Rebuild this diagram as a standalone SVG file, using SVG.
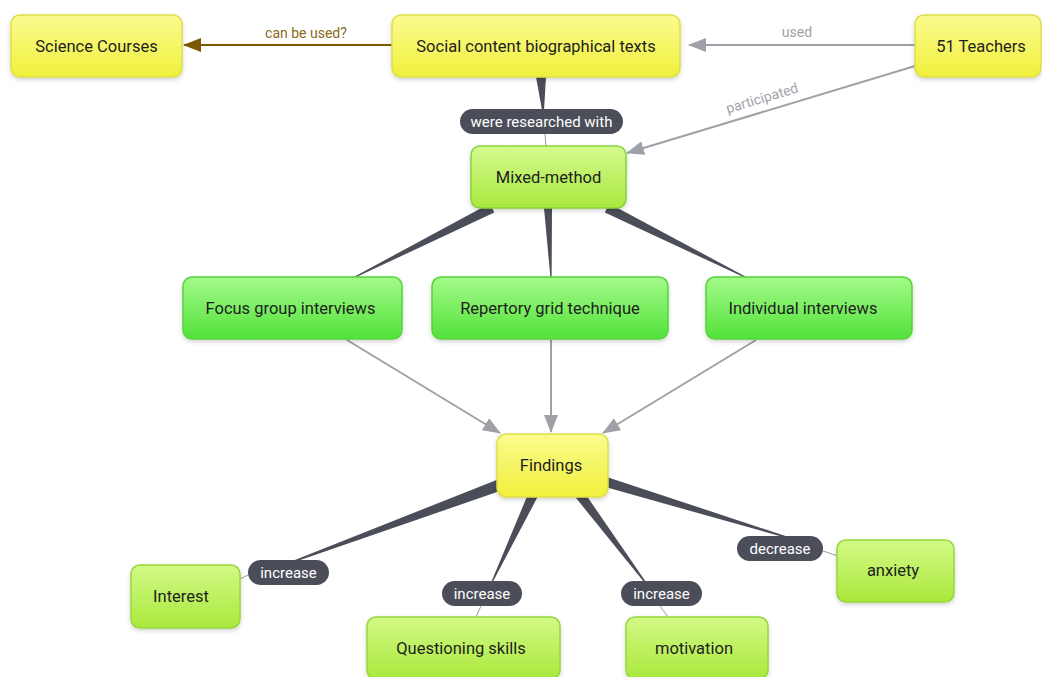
<svg xmlns="http://www.w3.org/2000/svg" width="1042" height="677" viewBox="0 0 1042 677">
<style>
.t{font-family:Roboto,"Liberation Sans",sans-serif;font-size:16.5px;fill:#1e1e1e;text-anchor:middle;dominant-baseline:central}
.lbl{font-family:Roboto,"Liberation Sans",sans-serif;font-size:15px;fill:#fff;text-anchor:middle;dominant-baseline:central}
.pill{fill:#4b4e59}
.glab{font-family:Roboto,"Liberation Sans",sans-serif;font-size:14px;fill:#a3a3aa;text-anchor:middle;dominant-baseline:central}
.wedge{fill:#4b4e59}
.thin{stroke:#9a9aa0;stroke-width:1;fill:none}
.garr{stroke:#a0a0a8;stroke-width:2;fill:none;marker-end:url(#ga)}
.y{fill:url(#gy);stroke:#dede4a;stroke-width:1.5;filter:url(#sh)}
.mg{fill:url(#gm);stroke:#86d43c;stroke-width:1.5;filter:url(#sh)}
.bg{fill:url(#gb);stroke:#55d43a;stroke-width:1.5;filter:url(#sh)}
.lg{fill:url(#gl);stroke:#96d83a;stroke-width:1.5;filter:url(#sh)}
</style>
<defs>
<linearGradient id="gy" x1="0" y1="0" x2="0" y2="1"><stop offset="0" stop-color="#fbfb90"/><stop offset="1" stop-color="#f0f03c"/></linearGradient>
<linearGradient id="gm" x1="0" y1="0" x2="0" y2="1"><stop offset="0" stop-color="#d4fa8e"/><stop offset="1" stop-color="#a8e83e"/></linearGradient>
<linearGradient id="gb" x1="0" y1="0" x2="0" y2="1"><stop offset="0" stop-color="#a4fa8a"/><stop offset="1" stop-color="#52e23a"/></linearGradient>
<linearGradient id="gl" x1="0" y1="0" x2="0" y2="1"><stop offset="0" stop-color="#d2fa86"/><stop offset="1" stop-color="#aae83c"/></linearGradient>
<filter id="sh" x="-10%" y="-10%" width="120%" height="130%"><feDropShadow dx="0" dy="2" stdDeviation="2" flood-color="#000" flood-opacity="0.18"/></filter>
<marker id="ga" markerUnits="userSpaceOnUse" markerWidth="18" markerHeight="14" refX="17" refY="7" orient="auto"><path d="M0,0 L18,7 L0,14 z" fill="#a0a0a8"/></marker>
<marker id="ba" markerUnits="userSpaceOnUse" markerWidth="18" markerHeight="14" refX="17" refY="7" orient="auto"><path d="M0,0 L18,7 L0,14 z" fill="#7a5800"/></marker>
</defs>
<rect width="1042" height="677" fill="#fff"/>
<g id="connectors">
<polygon class="wedge" points="536,77 546,77 544,110 542,110"/>
<polygon class="wedge" points="489.8,203.5 494.3,212.5 355.3,277.6 354.7,276.4"/>
<polygon class="wedge" points="544,208 552,208 551.6,277 550.4,277"/>
<polygon class="wedge" points="604.8,212.5 609.2,203.5 745.3,276.4 744.7,277.6"/>
<polygon class="wedge" points="502.9,477.4 507.1,488.6 292.3,562.7 291.7,561.3"/>
<polygon class="wedge" points="528.5,492.9 537.5,497.1 492.6,582.3 491.4,581.7"/>
<polygon class="wedge" points="576,498 584,492 645.6,581.6 644.4,582.4"/>
<polygon class="wedge" points="604.5,486.8 607.5,477.2 786.3,536.3 785.7,537.7"/>
<line class="thin" x1="545" y1="134" x2="546" y2="146"/>
<line class="thin" x1="248" y1="575" x2="240" y2="579"/>
<line class="thin" x1="481" y1="606" x2="476" y2="617"/>
<line class="thin" x1="660" y1="606" x2="668" y2="617"/>
<line class="thin" x1="823" y1="551" x2="838" y2="556"/>
<line x1="392" y1="45" x2="184" y2="45" stroke="#7a5800" stroke-width="2" marker-end="url(#ba)"/>
<text x="306" y="33" font-family="Roboto,'Liberation Sans',sans-serif" font-size="14" fill="#8a6a1a" text-anchor="middle" dominant-baseline="central">can be used?</text>
<line class="garr" x1="915" y1="45" x2="689" y2="45"/>
<text class="glab" x="797" y="32">used</text>
<line class="garr" x1="915" y1="66" x2="627" y2="153"/>
<text class="glab" x="762" y="98" transform="rotate(-16.75 762 98)">participated</text>
<line class="garr" x1="347" y1="340" x2="500" y2="433"/>
<line class="garr" x1="551" y1="340" x2="551" y2="432"/>
<line class="garr" x1="756" y1="340" x2="603" y2="433"/>
<rect class="pill" x="460" y="109" width="163" height="25" rx="12.5"/>
<text class="lbl" x="541.5" y="121.5">were researched with</text>
<rect class="pill" x="248" y="560" width="81" height="25" rx="12.5"/>
<text class="lbl" x="288.5" y="572.5">increase</text>
<rect class="pill" x="442" y="581" width="80" height="25" rx="12.5"/>
<text class="lbl" x="482" y="593.5">increase</text>
<rect class="pill" x="621" y="581" width="81" height="25" rx="12.5"/>
<text class="lbl" x="661.5" y="593.5">increase</text>
<rect class="pill" x="737" y="536" width="86" height="25" rx="12.5"/>
<text class="lbl" x="780" y="548.5">decrease</text>
</g>
<g id="science"><rect class="y" x="11" y="15" width="171" height="62" rx="9"/><text class="t" x="96.5" y="46">Science Courses</text></g>
<g id="social"><rect class="y" x="392" y="15" width="288" height="62" rx="9"/><text class="t" x="536" y="46">Social content biographical texts</text></g>
<g id="teachers"><rect class="y" x="915" y="15" width="126" height="62" rx="9"/><text class="t" x="981" y="46">51 Teachers</text></g>
<g id="mixed"><rect class="mg" x="471" y="146" width="155" height="62" rx="9"/><text class="t" x="548.5" y="177">Mixed-method</text></g>
<g id="focus"><rect class="bg" x="183" y="277" width="219" height="62" rx="9"/><text class="t" x="290.5" y="308">Focus group interviews</text></g>
<g id="repertory"><rect class="bg" x="432" y="277" width="236" height="62" rx="9"/><text class="t" x="550" y="308">Repertory grid technique</text></g>
<g id="individual"><rect class="bg" x="706" y="277" width="206" height="62" rx="9"/><text class="t" x="803" y="308">Individual interviews</text></g>
<g id="findings"><rect class="y" x="497" y="434" width="111" height="63" rx="9"/><text class="t" x="551" y="465">Findings</text></g>
<g id="interest"><rect class="lg" x="131" y="565" width="109" height="63" rx="9"/><text class="t" x="181" y="596">Interest</text></g>
<g id="questioning"><rect class="lg" x="367" y="617" width="193" height="62" rx="9"/><text class="t" x="461" y="648">Questioning skills</text></g>
<g id="motivation"><rect class="lg" x="626" y="617" width="142" height="62" rx="9"/><text class="t" x="694" y="648">motivation</text></g>
<g id="anxiety"><rect class="lg" x="837" y="540" width="117" height="62" rx="9"/><text class="t" x="893" y="570">anxiety</text></g>
</svg>
